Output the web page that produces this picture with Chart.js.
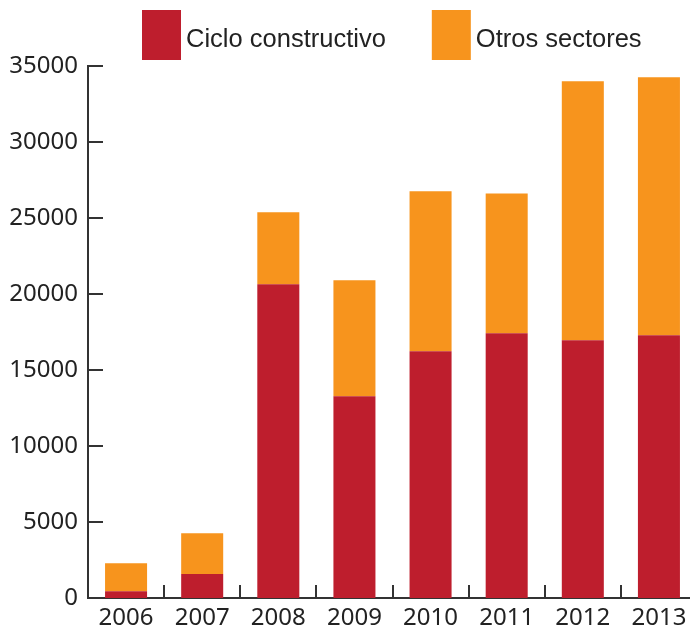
<!DOCTYPE html>
<html>
<head>
<meta charset="utf-8">
<script src="https://cdn.jsdelivr.net/npm/chart.js@4.4.1/dist/chart.umd.min.js"></script>
<style>
  html, body { margin: 0; padding: 0; background: #fff; overflow: hidden; }
  #wrap { width: 690px; height: 627px; }
</style>
</head>
<body>
<div id="wrap"><canvas id="c" width="690" height="627"></canvas></div>
<script>
const years = ['2006', '2007', '2008', '2009', '2010', '2011', '2012', '2013'];
const cicloConstructivo = [440, 1580, 20640, 13270, 16230, 17410, 16950, 17280];
const otrosSectores = [1840, 2680, 4740, 7630, 10530, 9210, 17040, 16980];
const seriesLabels = ['Ciclo constructivo', 'Otros sectores'];
const yTicks = [0, 5000, 10000, 15000, 20000, 25000, 30000, 35000];

const RED = '#BE1E2D';
const ORANGE = '#F7941D';
const AXIS = '#333333';
const TEXT = '#222222';

const legendPlugin = {
  id: 'customLegend',
  afterDraw(chart) {
    const ctx = chart.ctx;
    ctx.save();
    ctx.font = '25.5px "Liberation Sans"';
    ctx.textBaseline = 'alphabetic';
    ctx.textAlign = 'left';
    let x = 142;
    chart.data.datasets.forEach(ds => {
      ctx.fillStyle = ds.backgroundColor;
      ctx.fillRect(x, 10, 39, 50);
      ctx.fillStyle = TEXT;
      ctx.fillText(ds.label, x + 44, 47);
      x += 44 + ctx.measureText(ds.label).width + 46;
    });
    ctx.restore();
  }
};

// The plot area of the original runs slightly past the right edge of the picture.
const widenPlugin = {
  id: 'widenPlot',
  afterLayout(chart) {
    const xs = chart.scales.x;
    const extra = 7;
    xs.right += extra;
    xs.width += extra;
    chart.chartArea.right += extra;
    chart.chartArea.width += extra;
    xs.configure();
  }
};

// inward tick marks on both axes, positioned by the chart's own scales
const innerTicksPlugin = {
  id: 'innerTicks',
  afterDraw(chart) {
    const ctx = chart.ctx;
    const xs = chart.scales.x, ys = chart.scales.y;
    const area = chart.chartArea;
    ctx.save();
    ctx.strokeStyle = AXIS;
    ctx.lineWidth = 2;
    ctx.beginPath();
    const step = xs.getPixelForValue(1) - xs.getPixelForValue(0);
    for (let i = 1; i <= years.length; i++) {
      const px = Math.round(xs.getPixelForValue(i - 1) + step / 2);
      ctx.moveTo(px, area.bottom);
      ctx.lineTo(px, area.bottom - 13);
    }
    yTicks.forEach(v => {
      const py = Math.round(ys.getPixelForValue(v));
      ctx.moveTo(area.left, py);
      ctx.lineTo(area.left + 15, py);
    });
    ctx.stroke();
    ctx.restore();
  }
};

new Chart(document.getElementById('c'), {
  type: 'bar',
  data: {
    labels: years,
    datasets: [
      { label: seriesLabels[0], data: cicloConstructivo, backgroundColor: RED,
        barPercentage: 0.552, categoryPercentage: 1 },
      { label: seriesLabels[1], data: otrosSectores, backgroundColor: ORANGE,
        barPercentage: 0.552, categoryPercentage: 1 }
    ]
  },
  options: {
    responsive: false,
    animation: false,
    layout: { padding: { top: 66, right: 0, left: 0, bottom: 0 } },
    plugins: { legend: { display: false }, tooltip: { enabled: false } },
    scales: {
      x: {
        stacked: true,
        grid: { display: false, drawTicks: false },
        border: { display: true, color: AXIS, width: 2 },
        ticks: { font: { family: 'Noto Sans', size: 24 }, color: TEXT, padding: 6, maxRotation: 0 },
        afterFit: s => { s.height = 29; }
      },
      y: {
        stacked: true,
        min: 0,
        max: 35000,
        afterBuildTicks: s => { s.ticks = yTicks.map(v => ({ value: v })); },
        grid: { display: false, drawTicks: false },
        border: { display: true, color: AXIS, width: 2 },
        ticks: { font: { family: 'Noto Sans', size: 24 }, color: TEXT, padding: 10,
                 callback: v => String(v) },
        afterFit: s => { s.width = 88; }
      }
    }
  },
  plugins: [legendPlugin, widenPlugin, innerTicksPlugin]
});
</script>
</body>
</html>
